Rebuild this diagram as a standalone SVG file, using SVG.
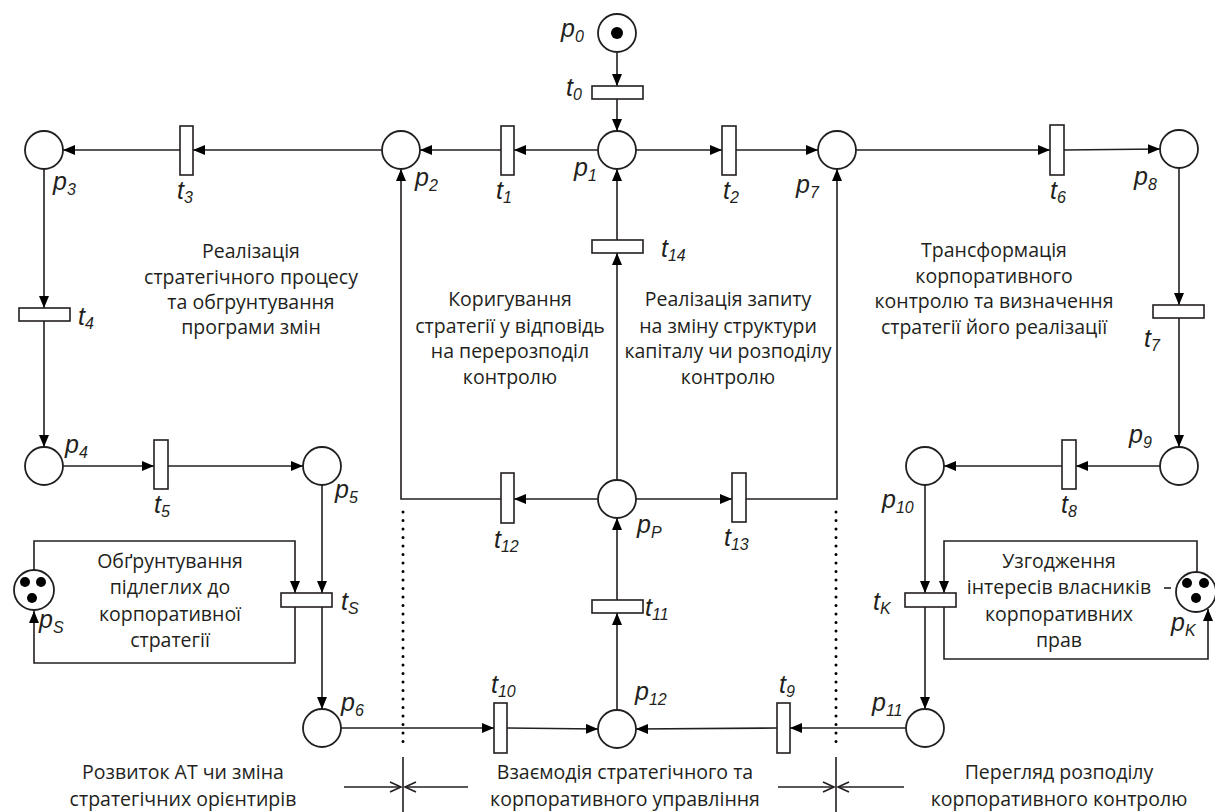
<svg xmlns="http://www.w3.org/2000/svg" width="1215" height="812" viewBox="0 0 1215 812">
<style>
.pl{fill:#fff;stroke:#231f20;stroke-width:1.8}
.tr{fill:#fff;stroke:#231f20;stroke-width:1.6}
.tok{fill:#000}
.arc{fill:none;stroke:#231f20;stroke-width:1.6;marker-end:url(#ah)}
.ln{fill:none;stroke:#231f20;stroke-width:1.6}
.dim{fill:none;stroke:#231f20;stroke-width:1.6;marker-end:url(#oh)}
.dot{fill:none;stroke:#000;stroke-width:3;stroke-linecap:round;stroke-dasharray:0 8.5}
.lbl{font-family:"Liberation Sans",Arial,sans-serif;font-style:italic;font-size:25px;fill:#231f20}
.sub{font-size:16px}
.txt{font-family:"Open Sans","Noto Sans",sans-serif;font-size:19.5px;fill:#231f20;text-anchor:middle}
</style>
<defs>
<marker id="ah" markerUnits="userSpaceOnUse" markerWidth="13" markerHeight="11" refX="12" refY="5" orient="auto">
<path d="M0,0 L12,5 L0,10 z" fill="#000"/>
</marker>
<marker id="oh" markerUnits="userSpaceOnUse" markerWidth="14" markerHeight="14" refX="12" refY="6" orient="auto">
<path d="M1,1 L12,6 L1,11" fill="none" stroke="#231f20" stroke-width="1.6"/>
</marker>
</defs>
<rect width="1215" height="812" fill="#fff"/>

<g id="connectors">
<line class="arc" x1="617" y1="53" x2="617" y2="86"/>
<line class="arc" x1="617" y1="99" x2="617" y2="131"/>
<line class="arc" x1="598" y1="150" x2="514" y2="150"/>
<line class="arc" x1="501" y1="150" x2="420" y2="150"/>
<line class="arc" x1="382" y1="150" x2="193" y2="150"/>
<line class="arc" x1="180" y1="150" x2="63" y2="150"/>
<line class="arc" x1="636" y1="150" x2="722" y2="150"/>
<line class="arc" x1="736" y1="150" x2="818" y2="150"/>
<line class="arc" x1="856" y1="150" x2="1050" y2="150"/>
<line class="arc" x1="1064" y1="150" x2="1160" y2="149"/>
<line class="arc" x1="44" y1="169" x2="44" y2="308"/>
<line class="arc" x1="44" y1="321" x2="44" y2="447"/>
<line class="arc" x1="63" y1="466" x2="154" y2="466"/>
<line class="arc" x1="168" y1="466" x2="303" y2="466"/>
<line class="arc" x1="322" y1="485" x2="322" y2="593"/>
<line class="arc" x1="322" y1="607" x2="322" y2="709"/>
<path class="arc" d="M34,570 V541 H295 V593"/>
<path class="arc" d="M295,607 V663 H34 V611"/>
<line class="arc" x1="341" y1="728" x2="494" y2="728"/>
<line class="arc" x1="507" y1="728" x2="598" y2="729"/>
<line class="arc" x1="617" y1="710" x2="617" y2="613"/>
<line class="arc" x1="617" y1="600" x2="617" y2="518"/>
<line class="arc" x1="598" y1="499" x2="514" y2="499"/>
<path class="arc" d="M501,499 H401 V169"/>
<line class="arc" x1="636" y1="499" x2="732" y2="499"/>
<path class="arc" d="M746,499 H837 V169"/>
<line class="arc" x1="617" y1="480" x2="617" y2="253"/>
<line class="arc" x1="617" y1="240" x2="617" y2="169"/>
<line class="arc" x1="1179" y1="168" x2="1179" y2="305"/>
<line class="arc" x1="1179" y1="318" x2="1179" y2="447"/>
<line class="arc" x1="1160" y1="466" x2="1076" y2="466"/>
<line class="arc" x1="1062" y1="466" x2="944" y2="466"/>
<line class="arc" x1="925" y1="485" x2="925" y2="593"/>
<line class="arc" x1="925" y1="607" x2="925" y2="709"/>
<path class="arc" d="M1197,572 V541 H944 V593"/>
<path class="arc" d="M944,607 V659 H1208 V609"/>
<line class="arc" x1="906" y1="728" x2="790" y2="728"/>
<line class="arc" x1="777" y1="728" x2="636" y2="729"/>
<line class="ln" x1="1164" y1="588" x2="1171" y2="588"/>
</g>

<g id="boundaries">
<line class="dot" x1="403" y1="512" x2="403" y2="750"/>
<line class="dot" x1="836" y1="512" x2="836" y2="750"/>
<line class="ln" x1="403" y1="757" x2="403" y2="812"/>
<line class="ln" x1="836" y1="757" x2="836" y2="812"/>
<line class="dim" x1="344" y1="787" x2="401" y2="787"/>
<line class="dim" x1="468" y1="787" x2="405" y2="787"/>
<line class="dim" x1="778" y1="787" x2="834" y2="787"/>
<line class="dim" x1="904" y1="787" x2="838" y2="787"/>
</g>

<g id="p0"><circle class="pl" cx="617" cy="33" r="19"/><circle class="tok" cx="617" cy="33" r="6"/><text class="lbl" x="561" y="37">p<tspan class="sub" dy="5">0</tspan></text></g>
<g id="p1"><circle class="pl" cx="617" cy="150" r="19"/><text class="lbl" x="574" y="176">p<tspan class="sub" dy="5">1</tspan></text></g>
<g id="p2"><circle class="pl" cx="401" cy="150" r="19"/><text class="lbl" x="415" y="186">p<tspan class="sub" dy="5">2</tspan></text></g>
<g id="p3"><circle class="pl" cx="44" cy="150" r="19"/><text class="lbl" x="53" y="190">p<tspan class="sub" dy="5">3</tspan></text></g>
<g id="p4"><circle class="pl" cx="44" cy="466" r="19"/><text class="lbl" x="65" y="453">p<tspan class="sub" dy="5">4</tspan></text></g>
<g id="p5"><circle class="pl" cx="322" cy="466" r="19"/><text class="lbl" x="335" y="498">p<tspan class="sub" dy="5">5</tspan></text></g>
<g id="p6"><circle class="pl" cx="322" cy="728" r="19"/><text class="lbl" x="341" y="711">p<tspan class="sub" dy="5">6</tspan></text></g>
<g id="p7"><circle class="pl" cx="837" cy="150" r="19"/><text class="lbl" x="796" y="193">p<tspan class="sub" dy="5">7</tspan></text></g>
<g id="p8"><circle class="pl" cx="1179" cy="149" r="19"/><text class="lbl" x="1134" y="185">p<tspan class="sub" dy="5">8</tspan></text></g>
<g id="p9"><circle class="pl" cx="1179" cy="466" r="19"/><text class="lbl" x="1129" y="443">p<tspan class="sub" dy="5">9</tspan></text></g>
<g id="p10"><circle class="pl" cx="925" cy="466" r="19"/><text class="lbl" x="882" y="508">p<tspan class="sub" dy="5">10</tspan></text></g>
<g id="p11"><circle class="pl" cx="925" cy="728" r="19"/><text class="lbl" x="872" y="711">p<tspan class="sub" dy="5">11</tspan></text></g>
<g id="p12"><circle class="pl" cx="617" cy="729" r="19"/><text class="lbl" x="635" y="700">p<tspan class="sub" dy="5">12</tspan></text></g>
<g id="pP"><circle class="pl" cx="617" cy="499" r="19"/><text class="lbl" x="637" y="533">p<tspan class="sub" dy="5">P</tspan></text></g>
<g id="pS"><circle class="pl" cx="34" cy="590" r="20"/><circle class="tok" cx="25" cy="582" r="5"/><circle class="tok" cx="41" cy="582" r="5"/><circle class="tok" cx="32" cy="598" r="5"/><text class="lbl" x="39" y="628">p<tspan class="sub" dy="5">S</tspan></text></g>
<g id="pK"><circle class="pl" cx="1196" cy="592" r="20"/><circle class="tok" cx="1187" cy="583" r="5"/><circle class="tok" cx="1204" cy="583" r="5"/><circle class="tok" cx="1196" cy="598" r="5"/><text class="lbl" x="1171" y="631">p<tspan class="sub" dy="5">K</tspan></text></g>

<g id="t0"><rect class="tr" x="592" y="86" width="51" height="13"/><text class="lbl" x="566" y="96">t<tspan class="sub" dy="4">0</tspan></text></g>
<g id="t1"><rect class="tr" x="501" y="126" width="13" height="49"/><text class="lbl" x="496" y="199">t<tspan class="sub" dy="4">1</tspan></text></g>
<g id="t2"><rect class="tr" x="722" y="126" width="14" height="49"/><text class="lbl" x="723" y="199">t<tspan class="sub" dy="4">2</tspan></text></g>
<g id="t3"><rect class="tr" x="180" y="126" width="13" height="49"/><text class="lbl" x="177" y="199">t<tspan class="sub" dy="4">3</tspan></text></g>
<g id="t4"><rect class="tr" x="19" y="308" width="51" height="13"/><text class="lbl" x="78" y="325">t<tspan class="sub" dy="4">4</tspan></text></g>
<g id="t5"><rect class="tr" x="154" y="440" width="14" height="49"/><text class="lbl" x="154" y="513">t<tspan class="sub" dy="4">5</tspan></text></g>
<g id="t6"><rect class="tr" x="1050" y="125" width="14" height="50"/><text class="lbl" x="1050" y="199">t<tspan class="sub" dy="4">6</tspan></text></g>
<g id="t7"><rect class="tr" x="1153" y="305" width="51" height="13"/><text class="lbl" x="1144" y="347">t<tspan class="sub" dy="4">7</tspan></text></g>
<g id="t8"><rect class="tr" x="1062" y="440" width="14" height="49"/><text class="lbl" x="1061" y="513">t<tspan class="sub" dy="4">8</tspan></text></g>
<g id="t9"><rect class="tr" x="777" y="703" width="13" height="50"/><text class="lbl" x="779" y="693">t<tspan class="sub" dy="4">9</tspan></text></g>
<g id="t10"><rect class="tr" x="494" y="703" width="13" height="50"/><text class="lbl" x="491" y="693">t<tspan class="sub" dy="4">10</tspan></text></g>
<g id="t11"><rect class="tr" x="592" y="600" width="51" height="13"/><text class="lbl" x="645" y="616">t<tspan class="sub" dy="4">11</tspan></text></g>
<g id="t12"><rect class="tr" x="501" y="473" width="13" height="50"/><text class="lbl" x="494" y="548">t<tspan class="sub" dy="4">12</tspan></text></g>
<g id="t13"><rect class="tr" x="732" y="473" width="14" height="49"/><text class="lbl" x="724" y="546">t<tspan class="sub" dy="4">13</tspan></text></g>
<g id="t14"><rect class="tr" x="592" y="240" width="51" height="13"/><text class="lbl" x="661" y="257">t<tspan class="sub" dy="4">14</tspan></text></g>
<g id="tS"><rect class="tr" x="281" y="593" width="51" height="14"/><text class="lbl" x="341" y="610">t<tspan class="sub" dy="4">S</tspan></text></g>
<g id="tK"><rect class="tr" x="905" y="593" width="51" height="14"/><text class="lbl" x="873" y="610">t<tspan class="sub" dy="4">K</tspan></text></g>

<g id="notes">
<text class="txt" x="251" y="258">Реалізація</text>
<text class="txt" x="251" y="284">стратегічного процесу</text>
<text class="txt" x="251" y="309">та обгрунтування</text>
<text class="txt" x="251" y="334">програми змін</text>
<text class="txt" x="510" y="306">Коригування</text>
<text class="txt" x="510" y="333">стратегії у відповідь</text>
<text class="txt" x="510" y="358">на перерозподіл</text>
<text class="txt" x="510" y="384">контролю</text>
<text class="txt" x="728" y="306">Реалізація запиту</text>
<text class="txt" x="728" y="333">на зміну структури</text>
<text class="txt" x="728" y="358">капіталу чи розподілу</text>
<text class="txt" x="728" y="384">контролю</text>
<text class="txt" x="994" y="257">Трансформація</text>
<text class="txt" x="994" y="283">корпоративного</text>
<text class="txt" x="994" y="308">контролю та визначення</text>
<text class="txt" x="994" y="334">стратегії його реалізації</text>
<text class="txt" x="170" y="568">Обґрунтування</text>
<text class="txt" x="170" y="594">підлеглих до</text>
<text class="txt" x="170" y="621">корпоративної</text>
<text class="txt" x="170" y="647">стратегії</text>
<text class="txt" x="1059" y="568">Узгодження</text>
<text class="txt" x="1059" y="594">інтересів власників</text>
<text class="txt" x="1059" y="621">корпоративних</text>
<text class="txt" x="1059" y="647">прав</text>
<text class="txt" x="183" y="779">Розвиток АТ чи зміна</text>
<text class="txt" x="183" y="806">стратегічних орієнтирів</text>
<text class="txt" x="625" y="779">Взаємодія стратегічного та</text>
<text class="txt" x="625" y="806">корпоративного управління</text>
<text class="txt" x="1059" y="779">Перегляд розподілу</text>
<text class="txt" x="1059" y="806">корпоративного контролю</text>
</g>
</svg>
